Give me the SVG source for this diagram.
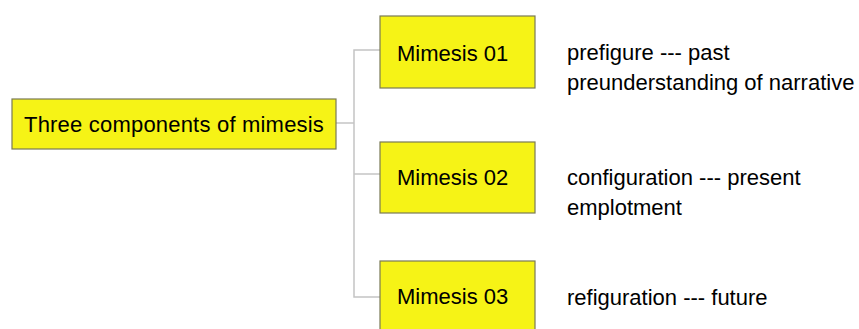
<svg xmlns="http://www.w3.org/2000/svg" width="859" height="329" viewBox="0 0 859 329">
<style>
.box{fill:#f6f316;stroke:#7a7a55;stroke-width:1.2}
.t{font-family:"Liberation Sans",Arial,sans-serif;font-size:22px;fill:#000}
.c{fill:none;stroke:#c4c4c4;stroke-width:1.5}
</style>
<rect width="859" height="329" fill="#fff"/>
<g id="connectors">
<path class="c" d="M336 123H354"/>
<path class="c" d="M380 50H354V297H380"/>
<path class="c" d="M354 174H380"/>
</g>
<g id="root">
<rect class="box" x="12" y="99" width="324" height="50"/>
<text class="t" x="24" y="132" letter-spacing="0.2">Three components of mimesis</text>
</g>
<g id="m1">
<rect class="box" x="380" y="16" width="155" height="72"/>
<text class="t" x="397" y="61">Mimesis 01</text>
</g>
<g id="m2">
<rect class="box" x="380" y="142" width="155" height="71"/>
<text class="t" x="397" y="185">Mimesis 02</text>
</g>
<g id="m3">
<rect class="box" x="380" y="261" width="155" height="72"/>
<text class="t" x="397" y="304">Mimesis 03</text>
</g>
<g id="notes">
<text class="t" x="567" y="60">prefigure --- past</text>
<text class="t" x="567" y="90">preunderstanding of narrative</text>
<text class="t" x="567" y="185">configuration --- present</text>
<text class="t" x="567" y="215">emplotment</text>
<text class="t" x="567" y="305">refiguration --- future</text>
</g>
</svg>
